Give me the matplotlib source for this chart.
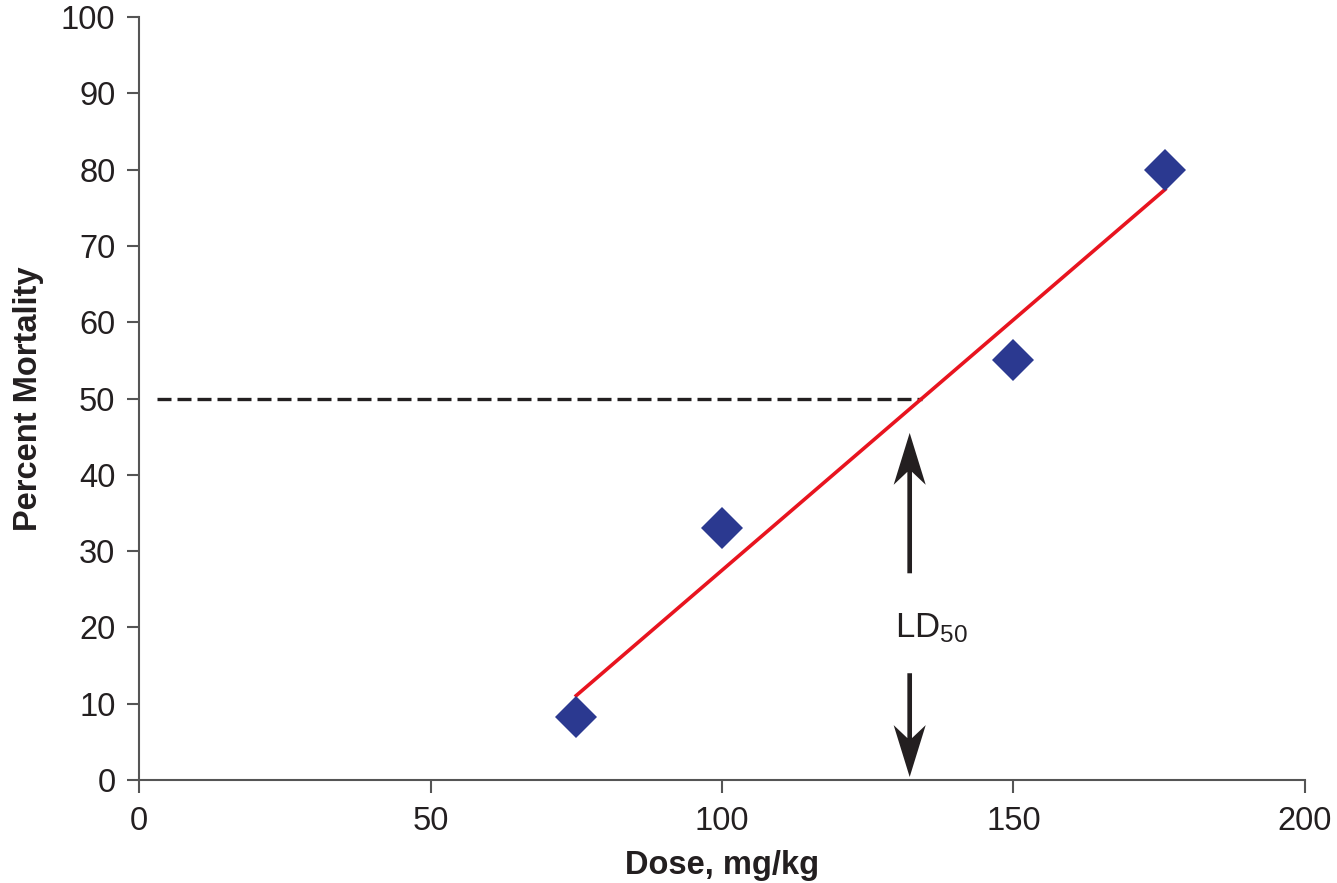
import matplotlib.pyplot as plt
from matplotlib.patches import FancyArrow
import numpy as np

plt.rcParams['font.family'] = ['Liberation Sans', 'DejaVu Sans']

# data
dose = [75, 100, 150, 176]
mortality = [8.3, 33, 55, 80]
ld50_dose = 132.2
dash_start = 3

x_ticks = [0, 50, 100, 150, 200]
y_ticks = [0, 10, 20, 30, 40, 50, 60, 70, 80, 90, 100]

dark = '#231F20'
navy = '#2B3990'
red = '#E8141F'

fig = plt.figure(figsize=(13.37, 8.83), dpi=100)
ax = fig.add_axes([0.104, 0.1166, 0.872, 0.864])

# linear fit through the points
slope, intercept = np.polyfit(dose, mortality, 1)
fit_x = np.array([dose[0], dose[-1]])
ax.plot(fit_x, slope * fit_x + intercept, color=red, lw=2.6, zorder=2)

ax.plot(dose, mortality, 'D', color=navy, markersize=21, markeredgewidth=0, zorder=3)

# 50% reference line
ax.plot([dash_start, (50 - intercept) / slope], [50, 50], color=dark, lw=2.4,
        dashes=(4.2, 1.8), zorder=1)

# LD50 arrows
ax.add_patch(FancyArrow(ld50_dose, 27.1, 0, 18.4, width=0.8, head_width=5.5,
                        head_length=6.8, overhang=0.25, length_includes_head=True,
                        color=dark, lw=0))
ax.add_patch(FancyArrow(ld50_dose, 14.0, 0, -13.6, width=0.8, head_width=5.5,
                        head_length=6.8, overhang=0.25, length_includes_head=True,
                        color=dark, lw=0))
ax.text(136, 19.9, r'$\mathregular{LD_{50}}$', fontsize=25, color=dark,
        ha='center', va='center')

ax.set_xlim(0, 200)
ax.set_ylim(0, 100)
ax.set_xticks(x_ticks)
ax.set_yticks(y_ticks)

for side in ['top', 'right']:
    ax.spines[side].set_visible(False)
for side in ['left', 'bottom']:
    ax.spines[side].set_color('#555555')
    ax.spines[side].set_linewidth(1.5)

ax.tick_params(axis='both', length=9, width=1.5, color='#555555',
               labelsize=23.5, labelcolor=dark)
ax.tick_params(axis='x', pad=10)
ax.tick_params(axis='y', pad=8)

ax.set_xlabel('Dose, mg/kg', fontsize=23.5, fontweight='bold', color=dark, labelpad=9)
ax.set_ylabel('Percent Mortality', fontsize=23.5, fontweight='bold', color=dark, labelpad=12)

fig.savefig('out.png', dpi=100)
